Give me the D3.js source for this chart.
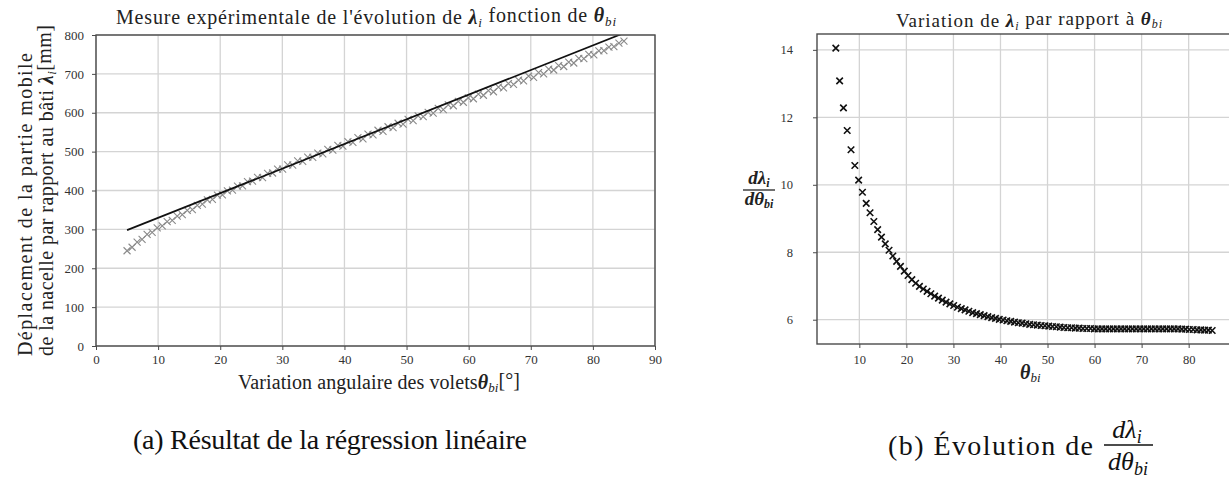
<!DOCTYPE html>
<html>
<head>
<meta charset="utf-8">
<script src="https://cdn.jsdelivr.net/npm/d3@7"></script>
<style>
body { margin:0; background:#fff; }
text { font-family: "Liberation Serif", "DejaVu Serif", serif; }
</style>
</head>
<body>
<script>
// angles (deg) of the measures, shared by both plots
var theta = [5.00,5.81,6.62,7.42,8.23,9.04,9.85,10.66,11.46,12.27,13.08,13.89,14.70,15.51,16.31,17.12,17.93,18.74,19.55,20.35,
  21.16,21.97,22.78,23.59,24.39,25.20,26.01,26.82,27.63,28.43,29.24,30.05,30.86,31.67,32.47,33.28,34.09,34.90,35.71,36.52,
  37.32,38.13,38.94,39.75,40.56,41.36,42.17,42.98,43.79,44.60,45.40,46.21,47.02,47.83,48.64,49.44,50.25,51.06,51.87,52.68,
  53.48,54.29,55.10,55.91,56.72,57.53,58.33,59.14,59.95,60.76,61.57,62.37,63.18,63.99,64.80,65.61,66.41,67.22,68.03,68.84,
  69.65,70.45,71.26,72.07,72.88,73.69,74.49,75.30,76.11,76.92,77.73,78.54,79.34,80.15,80.96,81.77,82.58,83.38,84.19,85.00];

// deplacement mesure lambda_i [mm]
var lambdaMes = [245,254,267,274,287,292,304,309,320,323,334,338,349,351,362,365,376,377,388,389,
  399,401,411,412,423,424,434,433,444,445,455,455,466,465,476,475,486,485,496,494,
  506,504,516,514,526,524,536,533,545,543,555,552,564,562,573,571,583,580,592,590,
  601,599,611,608,620,618,629,627,638,636,648,645,657,654,666,664,675,673,684,682,
  694,691,703,700,712,710,721,719,730,728,740,739,750,749,759,760,769,770,779,784];

// droite de regression
var fitTheta = [5, 85];
var fitLambda = [298, 805];

// derivee d lambda / d theta
var dLambda = [14.05,13.08,12.28,11.61,11.04,10.57,10.14,9.78,9.45,9.17,8.91,8.67,8.45,8.25,8.06,7.89,7.73,7.58,7.44,7.31,
  7.19,7.08,6.99,6.91,6.84,6.77,6.70,6.64,6.58,6.52,6.47,6.42,6.37,6.33,6.29,6.25,6.21,6.18,6.15,6.12,
  6.09,6.06,6.04,6.01,5.99,5.97,5.95,5.93,5.91,5.90,5.88,5.86,5.85,5.84,5.83,5.82,5.81,5.80,5.79,5.78,
  5.77,5.76,5.76,5.75,5.75,5.74,5.74,5.74,5.73,5.73,5.73,5.73,5.73,5.73,5.73,5.73,5.73,5.73,5.73,5.73,
  5.73,5.73,5.73,5.73,5.73,5.73,5.73,5.73,5.73,5.73,5.73,5.72,5.72,5.71,5.71,5.70,5.70,5.69,5.69,5.68];

var xTicksA = [0,10,20,30,40,50,60,70,80,90];
var yTicksA = [0,100,200,300,400,500,600,700,800];
var xTicksB = [10,20,30,40,50,60,70,80];
var yTicksB = [6,8,10,12,14];

var svg = d3.select("body").append("svg")
            .attr("width", 1229)
            .attr("height", 480);

var serif = "Liberation Serif";
var frameColor = "#4a4a4a";
var gridColor = "#d4d4d4";
var textColor = "#222";

function crossPath(size){
    var s = size/2;
    return "M"+(-s)+","+(-s)+"L"+s+","+s+"M"+(-s)+","+s+"L"+s+","+(-s);
}

// add "lambda_i" or "theta_bi" pieces to a text element
function mathTspans(sel, parts, subSize){
    parts.forEach(function(p){
        var t = sel.append("tspan").text(p.t);
        if(p.sym){ t.attr("font-style","italic").attr("font-weight","bold"); }
        if(p.sub){ t.attr("font-size", subSize).attr("dy", "0.25em").attr("font-style","italic"); }
        if(p.back){ t.attr("dy", "-0.25em"); }
    });
}

function styleAxis(g, size){
    g.attr("font-family", serif).attr("font-size", size);
    g.select(".domain").remove();
    g.selectAll(".tick line").attr("stroke", frameColor);
    g.selectAll(".tick text").attr("fill","#333").attr("font-family", serif).style("font-size", size+"px");
}

//Plot (a)
function drawPlotA(){
    var left = 96, right = 655, top = 35, bottom = 346;
    var xScale = d3.scaleLinear().domain([0,90]).range([left,right]);
    var yScale = d3.scaleLinear().domain([0,800]).range([bottom,top]);

    var g = svg.append("g");

    g.append("g").selectAll("line").data(xTicksA).enter().append("line")
        .attr("x1", function(d){return xScale(d)}).attr("x2", function(d){return xScale(d)})
        .attr("y1", top).attr("y2", bottom)
        .attr("stroke", gridColor).attr("stroke-width", 1.3);
    g.append("g").selectAll("line").data(yTicksA).enter().append("line")
        .attr("x1", left).attr("x2", right)
        .attr("y1", function(d){return yScale(d)}).attr("y2", function(d){return yScale(d)})
        .attr("stroke", gridColor).attr("stroke-width", 1.3);

    svg.append("clipPath").attr("id","clipA").append("rect")
        .attr("x", left).attr("y", top).attr("width", right-left).attr("height", bottom-top);

    g.append("g").selectAll("path").data(theta).enter().append("path")
        .attr("d", crossPath(7))
        .attr("transform", function(d,i){return "translate("+xScale(d)+","+yScale(lambdaMes[i])+")"})
        .attr("stroke", "#8a8a8a").attr("stroke-width", 1.1).attr("fill","none");

    var line = d3.line().x(function(d){return xScale(d)}).y(function(d,i){return yScale(fitLambda[i])});
    g.append("path").datum(fitTheta)
        .attr("d", line)
        .attr("clip-path","url(#clipA)")
        .attr("stroke", "#111").attr("stroke-width", 1.7).attr("fill","none");

    g.append("rect").attr("x", left).attr("y", top).attr("width", right-left).attr("height", bottom-top)
        .attr("fill","none").attr("stroke", frameColor).attr("stroke-width", 1.4);

    var xa = g.append("g").attr("transform","translate(0,"+bottom+")")
        .call(d3.axisBottom(xScale).tickValues(xTicksA).tickSize(4).tickPadding(5).tickFormat(d3.format("d")));
    styleAxis(xa, 13);
    var ya = g.append("g").attr("transform","translate("+left+",0)")
        .call(d3.axisLeft(yScale).tickValues(yTicksA).tickSize(4).tickPadding(8).tickFormat(d3.format("d")));
    styleAxis(ya, 13);

    var title = g.append("text").attr("x", 116).attr("y", 24)
        .attr("font-size","20px").attr("fill",textColor).attr("textLength", 500);
    mathTspans(title, [{t:"Mesure expérimentale de l'évolution de "},{t:"λ",sym:1},{t:"i",sub:1},
        {t:" fonction de ",back:1},{t:"θ",sym:1},{t:"bi",sub:1}], "13px");

    var xl = g.append("text").attr("x", 238).attr("y", 389)
        .attr("font-size","20px").attr("fill",textColor).attr("textLength", 282);
    mathTspans(xl, [{t:"Variation angulaire des volets"},{t:"θ",sym:1},{t:"bi",sub:1},{t:"[°]",back:1}], "13px");

    g.append("text").attr("transform","translate(32,356) rotate(-90)")
        .attr("font-size","20px").attr("fill",textColor).attr("textLength", 303)
        .text("Déplacement de la partie mobile");
    var yl2 = g.append("text").attr("transform","translate(53,356) rotate(-90)")
        .attr("font-size","20px").attr("fill",textColor).attr("textLength", 331);
    mathTspans(yl2, [{t:"de la nacelle par rapport au bâti "},{t:"λ",sym:1},{t:"i",sub:1},{t:"[mm]",back:1}], "13px");

    svg.append("text").attr("x", 133).attr("y", 449)
        .attr("font-size","28px").attr("fill","#111").attr("textLength", 394)
        .text("(a) Résultat de la régression linéaire");
}

//Plot (b)
function drawPlotB(){
    var left = 817, right = 1231, top = 34, bottom = 344;
    var xScale = d3.scaleLinear().domain([1,89]).range([left,right]);
    var yScale = d3.scaleLinear().domain([5.28,14.47]).range([bottom,top]);

    var g = svg.append("g");

    g.append("g").selectAll("line").data(xTicksB).enter().append("line")
        .attr("x1", function(d){return xScale(d)}).attr("x2", function(d){return xScale(d)})
        .attr("y1", top).attr("y2", bottom)
        .attr("stroke", gridColor).attr("stroke-width", 1.3);
    g.append("g").selectAll("line").data(yTicksB).enter().append("line")
        .attr("x1", left).attr("x2", right)
        .attr("y1", function(d){return yScale(d)}).attr("y2", function(d){return yScale(d)})
        .attr("stroke", gridColor).attr("stroke-width", 1.3);

    g.append("g").selectAll("path").data(theta).enter().append("path")
        .attr("d", crossPath(6.5))
        .attr("transform", function(d,i){return "translate("+xScale(d)+","+yScale(dLambda[i])+")"})
        .attr("stroke", "#111").attr("stroke-width", 1.6).attr("fill","none");

    g.append("rect").attr("x", left).attr("y", top).attr("width", right-left).attr("height", bottom-top)
        .attr("fill","none").attr("stroke", frameColor).attr("stroke-width", 1.4);

    var xa = g.append("g").attr("transform","translate(0,"+bottom+")")
        .call(d3.axisBottom(xScale).tickValues(xTicksB).tickSize(4).tickPadding(7).tickFormat(d3.format("d")));
    styleAxis(xa, 12.5);
    var ya = g.append("g").attr("transform","translate("+left+",0)")
        .call(d3.axisLeft(yScale).tickValues(yTicksB).tickSize(4).tickPadding(20).tickFormat(d3.format("d")));
    styleAxis(ya, 12.5);

    var title = g.append("text").attr("x", 896).attr("y", 27)
        .attr("font-size","19px").attr("fill",textColor).attr("textLength", 266);
    mathTspans(title, [{t:"Variation de "},{t:"λ",sym:1},{t:"i",sub:1},{t:" par rapport à ",back:1},{t:"θ",sym:1},{t:"bi",sub:1}], "12px");

    var xl = g.append("text").attr("x", 1020).attr("y", 379)
        .attr("font-size","20px").attr("fill",textColor);
    mathTspans(xl, [{t:"θ",sym:1},{t:"bi",sub:1}], "13px");

    // fraction d lambda_i / d theta_bi
    var yl = g.append("g").attr("transform","translate(759,190)");
    var num = yl.append("text").attr("x",0).attr("y",-6).attr("text-anchor","middle")
        .attr("font-size","19px").attr("fill",textColor).attr("font-style","italic").attr("font-weight","bold");
    mathTspans(num, [{t:"dλ"},{t:"i",sub:1}], "12px");
    yl.append("line").attr("x1",-16).attr("x2",16).attr("y1",0).attr("y2",0).attr("stroke",textColor).attr("stroke-width",1.3);
    var den = yl.append("text").attr("x",0).attr("y",15).attr("text-anchor","middle")
        .attr("font-size","19px").attr("fill",textColor).attr("font-style","italic").attr("font-weight","bold");
    mathTspans(den, [{t:"dθ"},{t:"bi",sub:1}], "12px");

    // caption (b)
    var cap = svg.append("g");
    cap.append("text").attr("x", 888).attr("y", 455).attr("font-size","28px").attr("fill","#111")
        .attr("textLength", 205)
        .text("(b) Évolution de");
    cap.append("text").attr("x", 1127).attr("y", 438).attr("text-anchor","middle")
        .attr("font-size","26px").attr("fill","#111").attr("font-style","italic")
        .call(function(t){ t.append("tspan").text("dλ"); t.append("tspan").text("i").attr("font-size","18px").attr("dy","0.25em"); });
    cap.append("line").attr("x1",1104).attr("x2",1153).attr("y1",445).attr("y2",445).attr("stroke","#111").attr("stroke-width",1.4);
    cap.append("text").attr("x", 1128).attr("y", 470).attr("text-anchor","middle")
        .attr("font-size","26px").attr("fill","#111").attr("font-style","italic")
        .call(function(t){ t.append("tspan").text("dθ"); t.append("tspan").text("bi").attr("font-size","18px").attr("dy","0.25em"); });
}

drawPlotA();
drawPlotB();
</script>
</body>
</html>
